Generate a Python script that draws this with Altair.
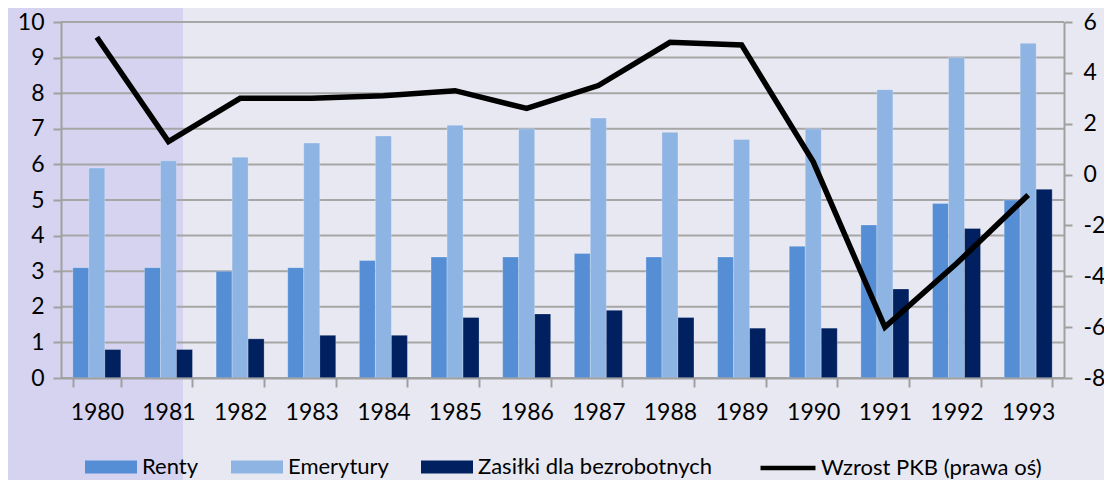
import altair as alt
import pandas as pd

years = [str(y) for y in range(1980, 1994)]
renty = [3.1, 3.1, 3.0, 3.1, 3.3, 3.4, 3.4, 3.5, 3.4, 3.4, 3.7, 4.3, 4.9, 5.0]
emerytury = [5.9, 6.1, 6.2, 6.6, 6.8, 7.1, 7.0, 7.3, 6.9, 6.7, 7.0, 8.1, 9.0, 9.4]
zasilki = [0.8, 0.8, 1.1, 1.2, 1.2, 1.7, 1.8, 1.9, 1.7, 1.4, 1.4, 2.5, 4.2, 5.3]
pkb = [5.4, 1.3, 3.0, 3.0, 3.1, 3.3, 2.6, 3.5, 5.2, 5.1, 0.5, -6.0, -3.5, -0.8]

bar_series = ["Renty", "Emerytury", "Zasiłki dla bezrobotnych"]
line_series = "Wzrost PKB (prawa oś)"
bar_colors = ["#558ED5", "#8EB4E3", "#002060"]
line_color = "#000000"
left_ticks = list(range(0, 11))
right_ticks = list(range(-8, 7, 2))

rows = []
for name, vals in zip(bar_series, [renty, emerytury, zasilki]):
    for y, v in zip(years, vals):
        rows.append({"year": y, "series": name, "value": v})
df_bars = pd.DataFrame(rows)
df_line = pd.DataFrame({"year": years, "pkb": pkb, "series": [line_series] * len(years)})
df_grid = pd.DataFrame({"g": left_ticks})

FONT = "Lato"

band = alt.Chart(pd.DataFrame({"a": [0]})).mark_rect(color="#D5D3F0").encode(
    x=alt.value(-53), x2=alt.value(122), y=alt.value(-14), y2=alt.value(474)
)

grid = alt.Chart(df_grid).mark_rule(color="#A6A6A6", strokeWidth=2).encode(
    y=alt.Y("g:Q", scale=alt.Scale(domain=[0, 10], nice=False), axis=None)
)

bars = alt.Chart(df_bars).mark_bar(stroke="white", strokeWidth=0.8, strokeOpacity=0.3).encode(
    x=alt.X(
        "year:N",
        title=None,
        scale=alt.Scale(paddingInner=0.33, paddingOuter=0.165),
        axis=alt.Axis(labelAngle=0, tickBand="extent", tickSize=9, labelPadding=14, zindex=2),
    ),
    xOffset=alt.XOffset(
        "series:N", sort=bar_series,
        scale=alt.Scale(domain=bar_series, paddingInner=0, paddingOuter=0),
    ),
    y=alt.Y(
        "value:Q",
        title=None,
        scale=alt.Scale(domain=[0, 10], nice=False),
        axis=alt.Axis(orient="left", values=left_ticks, labelPadding=9,
                      labelExpr="'' + datum.value", zindex=2),
    ),
    fill=alt.Fill(
        "series:N",
        scale=alt.Scale(domain=bar_series, range=bar_colors),
        legend=alt.Legend(
            orient="none", legendX=24, legendY=419, direction="horizontal",
            title=None, symbolSize=2704, symbolType="M-1,-0.25H1V0.25H-1Z",
            symbolStrokeWidth=0, symbolOpacity=1,
            labelFont=FONT, labelFontSize=22, labelLimit=400,
            labelColor="#000000", labelOffset=5, columnPadding=32, padding=0,
            columns=3, zindex=2,
        ),
    ),
)

line = alt.Chart(df_line).mark_line(strokeWidth=5.5, strokeJoin="miter").encode(
    x=alt.X("year:N"),
    y=alt.Y(
        "pkb:Q",
        title=None,
        scale=alt.Scale(domain=[-8, 6], nice=False),
        axis=alt.Axis(orient="right", values=right_ticks, labelPadding=11,
                      labelAlign="left", labelExpr="'' + datum.value", zindex=2),
    ),
    stroke=alt.Stroke(
        "series:N",
        scale=alt.Scale(domain=[line_series], range=[line_color]),
        legend=alt.Legend(
            orient="none", legendX=697, legendY=416, direction="horizontal",
            title=None, symbolSize=3025, symbolType="stroke",
            symbolStrokeWidth=4.5, symbolOpacity=1,
            labelFont=FONT, labelFontSize=22, labelColor="#000000", labelLimit=400,
            labelOffset=3, padding=0, zindex=2,
        ),
    ),
)

chart = (
    alt.layer(band, grid, bars, line)
    .resolve_scale(y="independent")
    .properties(
        width=1003,
        height=356,
        autosize=alt.AutoSizeParams(type="none"),
        padding={"left": 53, "top": 14, "right": 40, "bottom": 110},
        background="#E8E8F2",
    )
    .configure_view(stroke=None)
    .configure_axis(
        labelFont=FONT, labelFontSize=23, labelColor="#000000",
        domainColor="#A0A0A0", domainWidth=2, tickColor="#A0A0A0",
        tickWidth=2, tickSize=8, grid=False,
    )
)

chart.save("out.html", embed_options={"renderer": "svg", "actions": False})
